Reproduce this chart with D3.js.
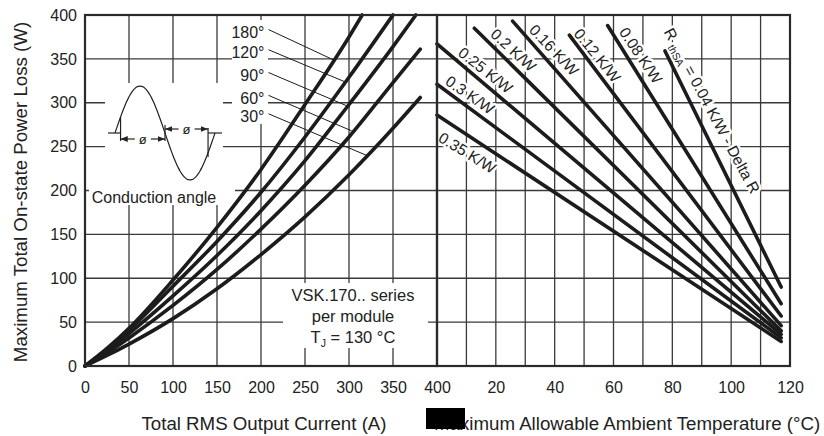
<!DOCTYPE html>
<meta charset="utf-8">
<style>
body { margin: 0; background: #fff; }
svg text { font-family: "Liberation Sans", Arial, sans-serif; fill: #222; }
.grid line { stroke: #3a3a3a; stroke-width: 1.3px; }
.curve { fill: none; stroke: #1c1c1c; stroke-width: 3.6px; stroke-linecap: round; }
.leader { stroke: #1c1c1c; stroke-width: 1px; }
.frame { fill: none; stroke: #2a2a2a; stroke-width: 2.2px; }
.axis text { font-size: 16px; }
.halo { stroke: #fff; stroke-width: 5px; paint-order: stroke; stroke-linejoin: round; }
</style>
<body>
<svg id="chart"></svg>
<script src="https://d3js.org/d3.v7.min.js"></script>
<script>

// left panel: power loss (W) vs total RMS output current (A), one curve per conduction angle
var angleNames = ["180°", "120°", "90°", "60°", "30°"];
var curve180 = [[0,0],[25,20],[50,43],[100,98],[150,158],[200,224],[250,298],[300,375],[315,400]];
var curve120 = [[0,0],[25,19],[50,41],[100,91],[150,142],[200,198],[250,261],[300,329],[350,400]];
var curve90  = [[0,0],[25,17],[50,37],[100,80],[150,126],[200,177],[250,234],[300,298],[350,364],[376,400]];
var curve60  = [[0,0],[25,15],[50,32],[100,69],[150,110],[200,156],[250,206],[300,261],[350,323],[381,361]];
var curve30  = [[0,0],[25,12],[50,25],[100,54],[150,88],[200,127],[250,170],[300,218],[350,271],[381,306]];
// where each leader line touches its curve [A, W]
var angleLeaderEnd = [[282,349],[295,324],[301,295],[303,268],[320,240]];
var angleLabelW = [380, 357, 331, 305, 284];

// right panel: power loss vs max ambient temperature, straight lines per heatsink Rth
var rthNames = ["0.35 K/W", "0.3 K/W", "0.25 K/W", "0.2 K/W", "0.16 K/W", "0.12 K/W", "0.08 K/W", "R_thSA = 0.04 K/W - Delta R"];
var rthStart = [[0,286],[0,321],[0,367],[12.7,385],[25.7,393],[45,377],[58,388],[77.5,359]];
var rthEnd   = [[117,28],[117,32],[117,36],[117,40],[117,46],[117,57],[117,71],[117,90]];
// label centres [°C, W]
var rthLabelAt = [[10.3,243],[11.2,309],[16.5,337],[26,360],[39.8,360],[54.5,354],[69.3,354],[93.5,291]];

var currentTicks = [0, 50, 100, 150, 200, 250, 300, 350, 400];
var tempTicks = [20, 40, 60, 80, 100, 120];
var powerTicks = [0, 50, 100, 150, 200, 250, 300, 350, 400];

var W = 824, H = 436;
var svg = d3.select("#chart").attr("width", W).attr("height", H);

var xL = d3.scaleLinear().domain([0, 400]).range([85, 437]);
var xR = d3.scaleLinear().domain([0, 120]).range([437, 790]);
var y = d3.scaleLinear().domain([0, 400]).range([366, 15]);

// grid
var grid = svg.append("g").attr("class", "grid");
grid.selectAll(".h").data(powerTicks.slice(1, -1)).enter().append("line")
    .attr("x1", xL(0)).attr("x2", xR(120))
    .attr("y1", function(d) { return y(d); }).attr("y2", function(d) { return y(d); });
grid.selectAll(".vl").data(d3.range(50, 400, 50)).enter().append("line")
    .attr("x1", function(d) { return xL(d); }).attr("x2", function(d) { return xL(d); })
    .attr("y1", y(0)).attr("y2", y(400));
grid.selectAll(".vr").data(d3.range(10, 120, 10)).enter().append("line")
    .attr("x1", function(d) { return xR(d); }).attr("x2", function(d) { return xR(d); })
    .attr("y1", y(0)).attr("y2", y(400));

// white patches behind the notes on the left panel
var masks = [[105, 83, 118, 102], [89, 185, 146, 20], [232, 20, 36, 104], [283, 283, 145, 65]];
svg.append("g").selectAll("rect").data(masks).enter().append("rect")
    .attr("x", function(d) { return d[0]; }).attr("y", function(d) { return d[1]; })
    .attr("width", function(d) { return d[2]; }).attr("height", function(d) { return d[3]; })
    .style("fill", "#fff");

// right panel labels (halo under the lines)
var rthLabels = svg.append("g");
rthNames.forEach(function(name, i) {
  var dx = xR(rthEnd[i][0]) - xR(rthStart[i][0]);
  var dy = y(rthEnd[i][1]) - y(rthStart[i][1]);
  var ang = Math.atan2(dy, dx) * 180 / Math.PI - 2;
  var t = rthLabels.append("text")
      .attr("class", "halo")
      .attr("transform", "translate(" + xR(rthLabelAt[i][0]) + "," + y(rthLabelAt[i][1]) + ") rotate(" + ang + ")")
      .attr("text-anchor", "middle")
      .attr("dy", "0.35em")
      .style("font-size", "15.5px");
  if (name.indexOf("R_thSA") == 0) {
    t.append("tspan").text("R ");
    t.append("tspan").attr("dy", 4).style("font-size", "10.5px").text("thSA");
    t.append("tspan").attr("dy", -4).text(" = 0.04 K/W - Delta R");
  } else {
    t.text(name);
  }
});

// left curves
var line = d3.line()
    .x(function(d) { return xL(d[0]); })
    .y(function(d) { return y(d[1]); })
    .curve(d3.curveMonotoneX);
var curves = [curve180, curve120, curve90, curve60, curve30];
svg.append("g").selectAll("path").data(curves).enter().append("path")
    .attr("class", "curve")
    .attr("d", line);

// right lines
svg.append("g").selectAll("line").data(rthStart).enter().append("line")
    .attr("class", "curve")
    .attr("x1", function(d) { return xR(d[0]); })
    .attr("y1", function(d) { return y(d[1]); })
    .attr("x2", function(d, i) { return xR(rthEnd[i][0]); })
    .attr("y2", function(d, i) { return y(rthEnd[i][1]); });

// angle labels + leader lines
var labelX = 204;
svg.append("g").selectAll("line").data(angleLeaderEnd).enter().append("line")
    .attr("class", "leader")
    .attr("x1", xL(labelX) + 4)
    .attr("y1", function(d, i) { return y(angleLabelW[i]) - 3; })
    .attr("x2", function(d) { return xL(d[0]); })
    .attr("y2", function(d) { return y(d[1]); });
svg.append("g").selectAll("text").data(angleNames).enter().append("text")
    .attr("x", xL(labelX))
    .attr("y", function(d, i) { return y(angleLabelW[i]); })
    .attr("dy", "0.35em")
    .attr("text-anchor", "end")
    .style("font-size", "16px")
    .text(function(d) { return d; });

// conduction angle sketch
var ph = d3.scaleLinear().domain([0, 360]).range([115, 215]);
var amp = d3.scaleLinear().domain([-1, 1]).range([180, 86]);
var sk = svg.append("g").style("stroke", "#222").style("fill", "none").style("stroke-width", 1.2);
sk.append("path").attr("d", d3.line()
    .x(function(d) { return ph(d); })
    .y(function(d) { return amp(Math.sin(d * Math.PI / 180)); })
    .curve(d3.curveBasis)(d3.range(0, 361, 6)));
sk.append("line").attr("x1", 108).attr("x2", ph(20)).attr("y1", amp(0)).attr("y2", amp(0));
sk.append("line").attr("x1", ph(335)).attr("x2", 222).attr("y1", amp(0)).attr("y2", amp(0));
sk.append("line").attr("x1", ph(20)).attr("x2", ph(20)).attr("y1", amp(Math.sin(20 * Math.PI / 180))).attr("y2", amp(0) + 8);
sk.append("line").attr("x1", ph(180)).attr("x2", ph(180)).attr("y1", amp(0) - 8).attr("y2", amp(0) + 8);
sk.append("line").attr("x1", ph(335)).attr("x2", ph(335)).attr("y1", amp(0) - 5).attr("y2", amp(0) + 24);

var defs = svg.append("defs");
defs.append("marker").attr("id", "ah").attr("viewBox", "0 0 10 10").attr("refX", 10).attr("refY", 5)
    .attr("markerWidth", 6).attr("markerHeight", 6).attr("orient", "auto-start-reverse")
  .append("path").attr("d", "M0,1L10,5L0,9z").style("fill", "#222").style("stroke", "none");
var arrows = [[20, 180, amp(0) + 6], [180, 335, amp(0) - 4]];
arrows.forEach(function(a) {
  var mid = (ph(a[0]) + ph(a[1])) / 2;
  sk.append("line").attr("x1", ph(a[0])).attr("x2", mid - 8).attr("y1", a[2]).attr("y2", a[2])
      .attr("marker-start", "url(#ah)");
  sk.append("line").attr("x1", mid + 8).attr("x2", ph(a[1])).attr("y1", a[2]).attr("y2", a[2])
      .attr("marker-end", "url(#ah)");
  svg.append("text").attr("x", mid).attr("y", a[2]).attr("dy", "0.35em")
      .attr("text-anchor", "middle").style("font-size", "13px").text("ø");
});
svg.append("text").attr("x", 154).attr("y", 197).attr("dy", "0.35em")
    .attr("text-anchor", "middle").style("font-size", "16px").text("Conduction angle");

// series note
var note = svg.append("g").attr("text-anchor", "middle").style("font-size", "16.5px");
note.append("text").attr("x", 353).attr("y", 295).attr("dy", "0.35em").text("VSK.170.. series");
note.append("text").attr("x", 353).attr("y", 316).attr("dy", "0.35em").text("per module");
var tj = note.append("text").attr("x", 353).attr("y", 337).attr("dy", "0.35em");
tj.append("tspan").text("T");
tj.append("tspan").attr("dy", 4).style("font-size", "10.5px").text("J");
tj.append("tspan").attr("dy", -4).text(" = 130 °C");

// frames
svg.append("rect").attr("class", "frame")
    .attr("x", xL(0)).attr("y", y(400)).attr("width", xL(400) - xL(0)).attr("height", y(0) - y(400));
svg.append("rect").attr("class", "frame")
    .attr("x", xR(0)).attr("y", y(400)).attr("width", xR(120) - xR(0)).attr("height", y(0) - y(400));

// axes
svg.append("g").attr("class", "axis")
    .attr("transform", "translate(" + xL(0) + ",0)")
    .call(d3.axisLeft(y).tickValues(powerTicks).tickSize(0).tickPadding(8));
svg.append("g").attr("class", "axis")
    .attr("transform", "translate(0," + y(0) + ")")
    .call(d3.axisBottom(xL).tickValues(currentTicks).tickSize(0).tickPadding(16));
svg.append("g").attr("class", "axis")
    .attr("transform", "translate(0," + y(0) + ")")
    .call(d3.axisBottom(xR).tickValues(tempTicks).tickSize(0).tickPadding(16));
svg.selectAll(".axis .domain").remove();
svg.selectAll(".axis text").style("fill", "#222").style("font-family", "Liberation Sans, Arial, sans-serif");

// axis titles
svg.append("text").attr("x", 264).attr("y", 430).attr("text-anchor", "middle")
    .style("font-size", "18.7px").text("Total RMS Output Current (A)");
svg.append("text").attr("x", 434).attr("y", 430).attr("text-anchor", "start")
    .style("font-size", "18.7px").text("Maximum Allowable Ambient Temperature (°C)");
svg.append("rect").attr("x", 426).attr("y", 408).attr("width", 39).attr("height", 21).style("fill", "#000");
svg.append("text").attr("transform", "translate(20,192) rotate(-90)").attr("dy", "0.35em")
    .attr("text-anchor", "middle").style("font-size", "18.7px")
    .text("Maximum Total On-state Power Loss (W)");

</script>
</body>
